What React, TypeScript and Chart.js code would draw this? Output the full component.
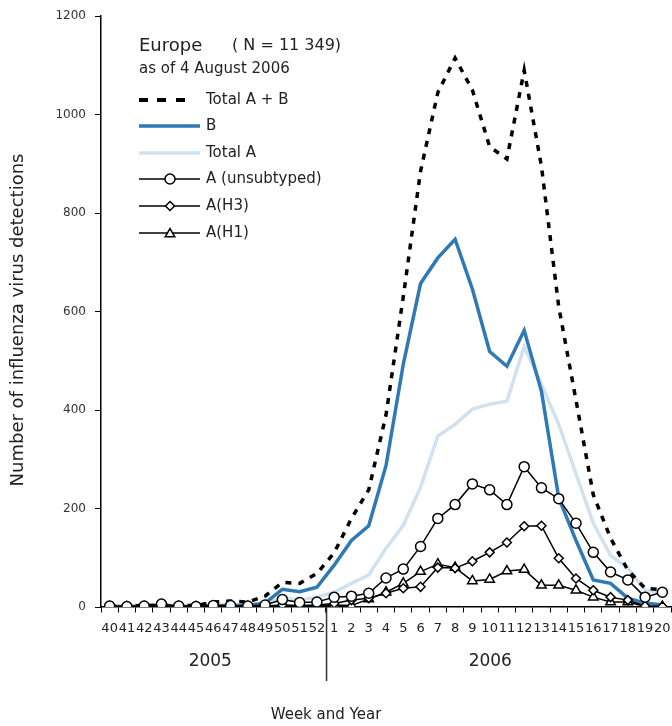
import React, { useEffect, useRef } from 'react';
import { Chart, registerables } from 'chart.js';
Chart.register(...registerables);

const weeks = ['40','41','42','43','44','45','46','47','48','49','50','51','52',
  '1','2','3','4','5','6','7','8','9','10','11','12','13','14','15','16','17','18','19','20'];

const yTicks = [0, 200, 400, 600, 800, 1000, 1200];

const totalAB = [2,2,3,4,3,3,10,12,10,22,50,48,68,
  110,180,238,390,630,885,1045,1115,1050,935,910,1090,895,610,420,228,140,75,38,35];
const seriesB = [1,1,1,1,1,1,2,3,3,8,36,31,40,
  85,135,165,287,493,657,709,747,646,519,489,562,438,222,135,55,48,18,8,4];
const totalA = [2,2,3,4,3,3,4,5,4,8,18,14,20,
  30,48,65,119,166,243,347,371,402,412,418,529,452,371,271,170,105,79,34,28];
const aUnsub = [2,1,2,6,2,1,3,3,2,4,15,9,10,
  20,22,28,59,77,123,180,208,250,238,208,285,242,220,170,111,71,55,20,30];
const aH3 = [1,1,1,2,1,1,1,1,1,2,4,3,4,
  7,14,18,28,38,41,80,79,93,111,131,164,165,99,58,34,20,14,2,1];
const aH1 = [0,0,0,1,0,0,0,0,0,1,2,2,3,
  4,3,16,30,48,72,87,80,53,56,73,76,44,44,34,20,10,10,1,1];

const FONT = '"DejaVu Sans", "Liberation Sans", sans-serif';
const BLUE = '#2f79b5';
const LIGHT = '#d0e1ef';
const TXT = '#222';

const overlay = {
  id: 'overlay',
  afterDraw(chart: any) {
    const ctx = chart.ctx as CanvasRenderingContext2D;
    const x = chart.scales.x;
    const area = chart.chartArea;
    ctx.save();
    // y axis title
    ctx.fillStyle = TXT;
    ctx.font = `18px ${FONT}`;
    ctx.textAlign = 'center';
    ctx.textBaseline = 'middle';
    ctx.save();
    ctx.translate(18, 320);
    ctx.rotate(-Math.PI / 2);
    ctx.fillText('Number of influenza virus detections', 0, 0);
    ctx.restore();

    // year separator
    const sepX = (x.getPixelForValue(12) + x.getPixelForValue(13)) / 2 + 1;
    ctx.strokeStyle = '#333';
    ctx.lineWidth = 1.5;
    ctx.beginPath();
    ctx.moveTo(sepX, area.bottom);
    ctx.lineTo(sepX, 681);
    ctx.stroke();

    ctx.font = `17px ${FONT}`;
    ctx.fillText('2005', (x.getPixelForValue(0) + x.getPixelForValue(12)) / 2 - 3, 662);
    ctx.fillText('2006', (x.getPixelForValue(13) + x.getPixelForValue(32)) / 2 - 8, 662);
    ctx.font = `15px ${FONT}`;
    ctx.fillText('Week and Year', 326, 715);

    // legend header
    ctx.textAlign = 'left';
    ctx.font = `18px ${FONT}`;
    ctx.fillText('Europe', 139, 46);
    ctx.font = `16px ${FONT}`;
    ctx.fillText('( N = 11 349)', 232, 46);
    ctx.font = `15px ${FONT}`;
    ctx.fillText('as of 4 August 2006', 139, 69);

    const x0 = 139, x1 = 200, tx = 206, mx = 170;
    const rows = [100, 126, 153, 179, 206, 233];
    // Total A+B
    ctx.fillStyle = '#000';
    [[139, 148], [157, 166], [176, 185]].forEach(([a, b]) => ctx.fillRect(a, rows[0] - 2, b - a, 4));
    // B
    ctx.lineWidth = 3.5;
    ctx.strokeStyle = BLUE;
    ctx.beginPath(); ctx.moveTo(x0, rows[1]); ctx.lineTo(x1, rows[1]); ctx.stroke();
    ctx.strokeStyle = LIGHT;
    ctx.beginPath(); ctx.moveTo(x0, rows[2]); ctx.lineTo(x1, rows[2]); ctx.stroke();
    ctx.strokeStyle = '#000';
    ctx.lineWidth = 1.5;
    for (let i = 3; i < 6; i++) {
      ctx.beginPath(); ctx.moveTo(x0, rows[i]); ctx.lineTo(x1, rows[i]); ctx.stroke();
    }
    ctx.fillStyle = '#fff';
    // circle
    ctx.beginPath(); ctx.arc(mx, rows[3], 5, 0, Math.PI * 2); ctx.fill(); ctx.stroke();
    // diamond
    const d = 4.5;
    ctx.beginPath();
    ctx.moveTo(mx, rows[4] - d); ctx.lineTo(mx + d, rows[4]); ctx.lineTo(mx, rows[4] + d); ctx.lineTo(mx - d, rows[4]);
    ctx.closePath(); ctx.fill(); ctx.stroke();
    // triangle
    const r = 5.5;
    const cy = rows[5] + 1;
    ctx.beginPath();
    ctx.moveTo(mx, cy - r);
    ctx.lineTo(mx + r * Math.sin(Math.PI * 2 / 3), cy - r * Math.cos(Math.PI * 2 / 3));
    ctx.lineTo(mx - r * Math.sin(Math.PI * 2 / 3), cy - r * Math.cos(Math.PI * 2 / 3));
    ctx.closePath(); ctx.fill(); ctx.stroke();

    ctx.fillStyle = TXT;
    ctx.font = `15px ${FONT}`;
    ctx.textBaseline = 'middle';
    const names = ['Total A + B', 'B', 'Total A', 'A (unsubtyped)', 'A(H3)', 'A(H1)'];
    names.forEach((n, i) => ctx.fillText(n, tx, rows[i]));
    ctx.restore();
  },
};

export default function App() {
  const ref = useRef<HTMLCanvasElement>(null);
  useEffect(() => {
    document.body.style.margin = '0';
    const canvas = ref.current!;
    const markerBase = {
      borderColor: '#000',
      borderWidth: 1.5,
      pointBackgroundColor: '#fff',
      pointBorderColor: '#000',
      pointBorderWidth: 1.5,
      tension: 0,
      fill: false,
    };
    const chart = new Chart(canvas, {
      type: 'line',
      data: {
        labels: weeks,
        datasets: [
          { ...markerBase, label: 'A (unsubtyped)', data: aUnsub, pointStyle: 'circle', pointRadius: 5, order: 0 },
          { ...markerBase, label: 'A(H3)', data: aH3, pointStyle: 'rectRot', pointRadius: 4.5, order: 0 },
          { ...markerBase, label: 'A(H1)', data: aH1, pointStyle: 'triangle', pointRadius: 5.5, order: 0 },
          { label: 'Total A + B', data: totalAB, borderColor: '#000', borderWidth: 3.5, borderDash: [6, 7], pointRadius: 0, tension: 0, order: 1 },
          { label: 'B', data: seriesB, borderColor: BLUE, borderWidth: 3.5, pointRadius: 0, tension: 0, order: 2 },
          { label: 'Total A', data: totalA, borderColor: LIGHT, borderWidth: 3.5, pointRadius: 0, tension: 0, order: 3 },
        ],
      },
      options: {
        animation: false,
        responsive: false,
        devicePixelRatio: 1,
        layout: { autoPadding: false, padding: { left: 0, right: 1, top: 13, bottom: 0 } },
        plugins: { legend: { display: false }, tooltip: { enabled: false } },
        scales: {
          x: {
            type: 'category',
            offset: true,
            afterFit: (s: any) => { s.height = 119; s.paddingLeft = 0; s.paddingRight = 0; },
            grid: {
              display: true, drawOnChartArea: false, offset: true, tickLength: 14,
              tickBorderDash: [5, 60], color: '#000', lineWidth: 1,
            },
            border: { display: true, color: '#000', width: 1.5 },
            ticks: { autoSkip: false, maxRotation: 0, minRotation: 0, padding: 0, color: TXT, font: { family: FONT, size: 13 } },
          },
          y: {
            min: 0,
            max: 1200,
            afterFit: (s: any) => { s.width = 101; },
            afterBuildTicks: (s: any) => { s.ticks = yTicks.map((v) => ({ value: v })); },
            grid: { display: true, drawOnChartArea: false, tickLength: 6, color: '#000', lineWidth: 1 },
            border: { display: true, color: '#000', width: 1.5 },
            ticks: { padding: 9, color: '#333', font: { family: FONT, size: 12 }, callback: (v: any) => String(v) },
          },
        },
      },
      plugins: [overlay],
    } as any);
    return () => chart.destroy();
  }, []);
  return (
    <div style={{ width: 672, height: 726, position: 'relative' }}>
      <canvas ref={ref} width={672} height={726} style={{ display: 'block' }} />
    </div>
  );
}
